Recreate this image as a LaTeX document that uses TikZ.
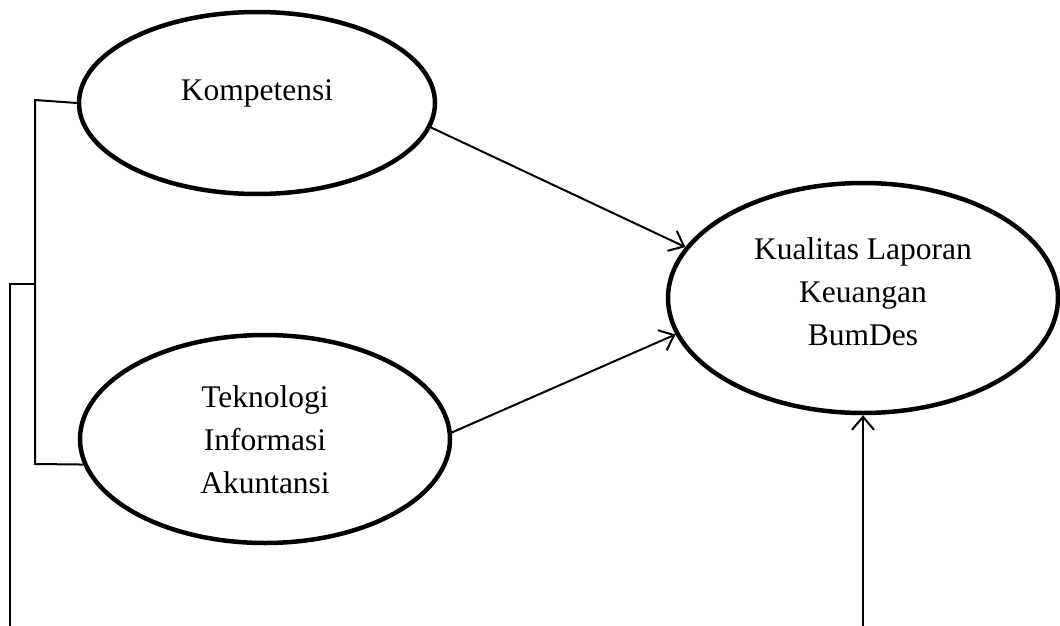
\documentclass[tikz,border=0pt]{standalone}
\usepackage{fontspec}
\setmainfont{Liberation Serif}
\usetikzlibrary{shapes.geometric,arrows.meta}
\begin{document}
\begin{tikzpicture}[x=1pt,y=-1pt,
  oval/.style={ellipse,draw,line width=4.5pt,inner sep=0pt},
  txt/.style={align=center,font=\fontsize{31.5}{43}\selectfont,inner sep=0pt},
  conn/.style={line width=2pt},
  arr/.style={line width=2pt,-{Straight Barb[length=13pt,width=22pt]}}]
\useasboundingbox (0,0) rectangle (1060,626);
% ellipses
\node[oval,minimum width=356pt,minimum height=182pt] (k) at (257,103) {};
\node[txt] (kt) at (257,93) {Kompetensi};
\node[oval,minimum width=370pt,minimum height=208pt] (t) at (265,439) {};
\node[txt] (tt) at (265,440) {Teknologi\\Informasi\\Akuntansi};
\node[oval,minimum width=390pt,minimum height=230pt] (q) at (863,298) {};
\node[txt] (qt) at (863,292) {Kualitas Laporan\\Keuangan\\BumDes};
% bracket on the left
\coordinate (b1) at (35,100);
\coordinate (b2) at (35,464);
\coordinate (bm) at (35,284);
\coordinate (b0) at (10,626);
\draw[conn] (k.west) -- (b1) -- (b2) -- (t.188);
\draw[conn] (bm) -| (b0);
% arrows
\draw[arr] (k.-8) -- (q.164);
\draw[arr] (t.2) -- (q.-169);
\coordinate (bot) at (863,626);
\draw[arr] (bot) -- (q.south);
\end{tikzpicture}
\end{document}
